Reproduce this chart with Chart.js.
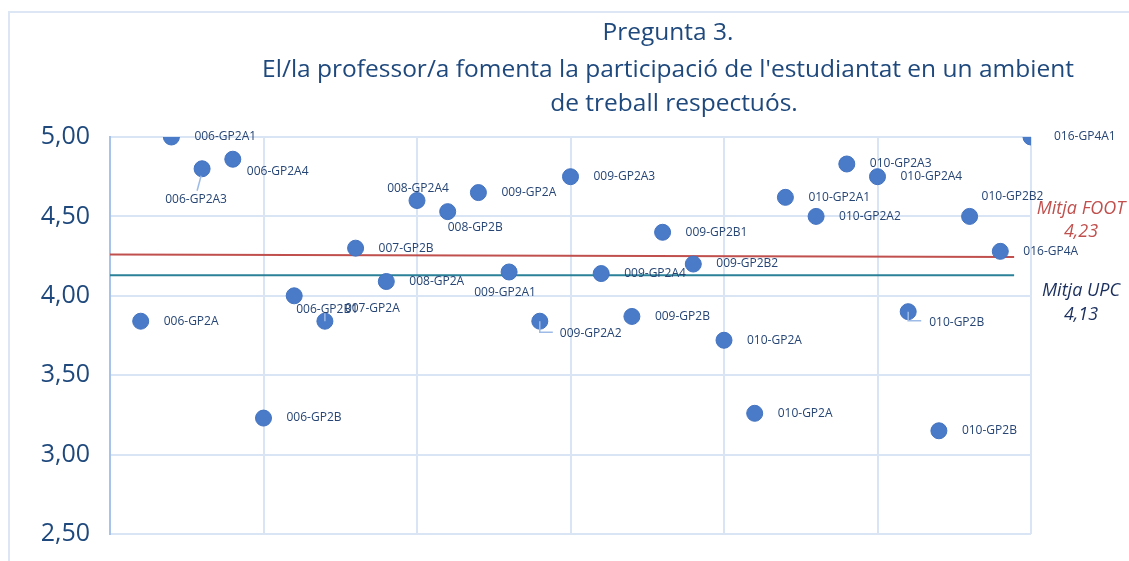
<!DOCTYPE html>
<html>
<head>
<meta charset="utf-8">
<script src="https://cdn.jsdelivr.net/npm/chart.js@4.4.0/dist/chart.umd.min.js"></script>
<style>
  html, body { margin: 0; padding: 0; background: #fff; overflow: hidden; }
  #wrap { position: relative; width: 1129px; height: 561px; overflow: hidden; }
  #frame { position: absolute; left: 8px; top: 11px; width: 1200px; height: 600px;
           border: 2px solid #dce6f4; box-sizing: border-box; pointer-events: none; }
  canvas { position: absolute; left: 0; top: 0; }
</style>
</head>
<body>
<div id="wrap">
  <canvas id="scatter" width="1129" height="561"></canvas>
  <div id="frame"></div>
</div>
<script>
const groups = [
    '006-GP2A', '006-GP2A1', '006-GP2A3', '006-GP2A4', '006-GP2B', '006-GP2B1',
    '007-GP2A', '007-GP2B', '008-GP2A', '008-GP2A4', '008-GP2B', '009-GP2A',
    '009-GP2A1', '009-GP2A2', '009-GP2A3', '009-GP2A4', '009-GP2B', '009-GP2B1',
    '009-GP2B2', '010-GP2A', '010-GP2A', '010-GP2A1', '010-GP2A2', '010-GP2A3',
    '010-GP2A4', '010-GP2B', '010-GP2B', '010-GP2B2', '016-GP4A', '016-GP4A1'
];
const scores = [
    3.84, 5.00, 4.80, 4.86, 3.23, 4.00,
    3.84, 4.30, 4.09, 4.60, 4.53, 4.65,
    4.15, 3.84, 4.75, 4.14, 3.87, 4.40,
    4.20, 3.72, 3.26, 4.62, 4.50, 4.83,
    4.75, 3.90, 3.15, 4.50, 4.28, 5.00
];
const meanFoot = [4.26, 4.245];
const meanUpc = [4.13, 4.13];
const meanFootText = ['Mitja FOOT', '4,23'];
const meanUpcText = ['Mitja UPC', '4,13'];
const yTicks = [2.5, 3.0, 3.5, 4.0, 4.5, 5.0];
const titleLines = [
    'Pregunta 3.',
    "El/la professor/a fomenta la participació de l'estudiantat en un ambient",
    'de treball respectuós.'
];

// where each label sits around its point (default: right of it)
const labelPlace = {
    2: { dx: -6, dy: 31, align: 'center', leader: [[-1, 7], [-5, 22]] },
    3: { dx: 14, dy: 12 },
    5: { dx: 2, dy: 14 },
    6: { dx: 20, dy: -13, leader: [[0, -8], [0, 0]] },
    9: { dx: 1, dy: -12, align: 'center' },
    10: { dx: 0, dy: 16 },
    12: { dx: -4, dy: 21, align: 'center' },
    13: { dx: 20, dy: 12, leader: [[0, 0], [0, 11], [13, 11]] },
    25: { dx: 21, dy: 11, leader: [[0, 0], [0, 9], [13, 9]] },
    27: { dx: 12, dy: -20 }
};

const navy = '#1f497d';

const extrasPlugin = {
    id: 'extras',
    afterDatasetsDraw(chart) {
        const ctx = chart.ctx;
        const meta = chart.getDatasetMeta(0);
        ctx.save();
        // point labels
        ctx.font = '12px "Open Sans"';
        ctx.fillStyle = '#264574';
        ctx.textBaseline = 'middle';
        meta.data.forEach((pt, i) => {
            const p = labelPlace[i] || {};
            const dx = p.dx !== undefined ? p.dx : 23;
            const dy = p.dy || 0;
            if (p.leader) {
                ctx.strokeStyle = '#9dbbe6';
                ctx.lineWidth = 1.5;
                ctx.beginPath();
                p.leader.forEach((q, k) => {
                    if (k === 0) ctx.moveTo(pt.x + q[0], pt.y + q[1]);
                    else ctx.lineTo(pt.x + q[0], pt.y + q[1]);
                });
                ctx.stroke();
            }
            ctx.textAlign = p.align || 'left';
            ctx.fillText(groups[i], pt.x + dx, pt.y + dy);
        });

        // mean annotations
        const area = chart.chartArea;
        const ys = chart.scales.y;
        const cx = area.right + 50;
        ctx.textAlign = 'center';
        ctx.font = 'italic 18px "Open Sans"';
        ctx.fillStyle = '#c0504d';
        const fy = ys.getPixelForValue(meanFoot[0]);
        ctx.fillText(meanFootText[0], cx, fy - 46);
        ctx.fillText(meanFootText[1], cx, fy - 23);
        ctx.fillStyle = '#1b2f5e';
        const uy = ys.getPixelForValue(meanUpc[0]);
        ctx.fillText(meanUpcText[0], cx, uy + 16);
        ctx.fillText(meanUpcText[1], cx, uy + 40);

        // title
        ctx.fillStyle = navy;
        ctx.font = '24.5px "Open Sans"';
        ctx.fillText(titleLines[0], 668, 33);
        ctx.fillText(titleLines[1], 668, 70);
        ctx.fillText(titleLines[2], 674, 104);
        ctx.restore();
    }
};

const ctx = document.getElementById('scatter');

new Chart(ctx, {
    type: 'scatter',
    data: {
        datasets: [{
            label: 'Pregunta 3',
            data: scores.map((v, i) => ({ x: i + 1, y: v })),
            backgroundColor: '#4a7bc8',
            borderColor: '#4373c0',
            borderWidth: 1,
            pointRadius: 8,
            order: 0
        }, {
            type: 'line',
            label: 'Mitja FOOT',
            data: [{ x: 0, y: meanFoot[0] }, { x: 29.45, y: meanFoot[1] }],
            borderColor: '#c0504d',
            borderWidth: 2,
            pointRadius: 0,
            order: 1
        }, {
            type: 'line',
            label: 'Mitja UPC',
            data: [{ x: 0, y: meanUpc[0] }, { x: 29.45, y: meanUpc[1] }],
            borderColor: '#2a8198',
            borderWidth: 2,
            pointRadius: 0,
            order: 1
        }]
    },
    options: {
        responsive: false,
        animation: false,
        layout: { padding: { left: 0, top: 137, right: 98, bottom: 27 } },
        plugins: {
            legend: { display: false },
            tooltip: { enabled: false }
        },
        scales: {
            x: {
                type: 'linear',
                min: 0,
                max: 30,
                ticks: { display: false, stepSize: 5 },
                grid: { color: '#d9e4f4', lineWidth: 2, drawTicks: false },
                border: { display: false },
                afterFit(scale) { scale.height = 0; }
            },
            y: {
                min: 2.5,
                max: 5,
                afterBuildTicks(scale) { scale.ticks = yTicks.map(v => ({ value: v })); },
                ticks: {
                    padding: 20,
                    color: navy,
                    font: { family: 'Open Sans', size: 25 },
                    callback: v => v.toFixed(2).replace('.', ',')
                },
                grid: { color: '#d9e4f4', lineWidth: 2, drawTicks: false },
                border: { display: true, color: '#a8c3ea', width: 2 },
                afterFit(scale) {
                    scale.width = 110;
                    scale.paddingTop = 0;
                    scale.paddingBottom = 0;
                }
            }
        }
    },
    plugins: [extrasPlugin]
});
</script>
</body>
</html>
